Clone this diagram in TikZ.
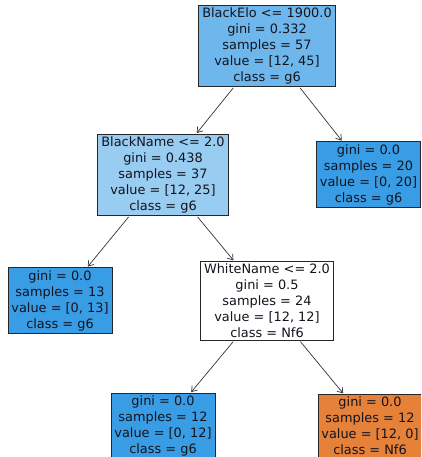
\documentclass[tikz,border=0pt]{standalone}
\usepackage{fontspec}
\setmainfont{DejaVu Sans}
\usetikzlibrary{arrows.meta}
\definecolor{rootc}{RGB}{110,183,236}
\definecolor{midc}{RGB}{152,204,241}
\definecolor{g6c}{RGB}{57,157,229}
\definecolor{nfc}{RGB}{229,129,57}
\definecolor{txt}{RGB}{20,20,30}
\tikzset{
  tbox/.style={draw=black!85, line width=0.8pt, rectangle, align=center,
    font=\fontsize{12.9}{16}\selectfont, text=txt, inner xsep=3.5pt, inner ysep=2.5pt},
  conn/.style={draw=black!80, line width=0.7pt, -{Straight Barb[length=5pt,width=7pt]}, shorten >=1pt, shorten <=1pt}
}
\begin{document}
\begin{tikzpicture}[x=1pt,y=1pt]
\useasboundingbox (0,0) rectangle (421,457);
\begin{scope}
\clip (0,0) rectangle (421,457);
\node[tbox, fill=rootc] (root) at (267,411) {BlackElo <= 1900.0\\gini = 0.332\\samples = 57\\value = [12, 45]\\class = g6};
\node[tbox, fill=midc] (bn) at (163,282) {BlackName <= 2.0\\gini = 0.438\\samples = 37\\value = [12, 25]\\class = g6};
\node[tbox, fill=g6c] (r20) at (368.5,282.5) {gini = 0.0\\samples = 20\\value = [0, 20]\\class = g6};
\node[tbox, fill=g6c] (l13) at (60,156.5) {gini = 0.0\\samples = 13\\value = [0, 13]\\class = g6};
\node[tbox, fill=white] (wn) at (267,156) {WhiteName <= 2.0\\gini = 0.5\\samples = 24\\value = [12, 12]\\class = Nf6};
\node[tbox, fill=g6c] (l12) at (163,31) {gini = 0.0\\samples = 12\\value = [0, 12]\\class = g6};
\node[tbox, fill=nfc] (r12) at (370,31) {gini = 0.0\\samples = 12\\value = [12, 0]\\class = Nf6};
\draw[conn] (root) -- (bn);
\draw[conn] (root) -- (r20);
\draw[conn] (bn) -- (l13);
\draw[conn] (bn) -- (wn);
\draw[conn] (wn) -- (l12);
\draw[conn] (wn) -- (r12);
\end{scope}
\end{tikzpicture}
\end{document}
